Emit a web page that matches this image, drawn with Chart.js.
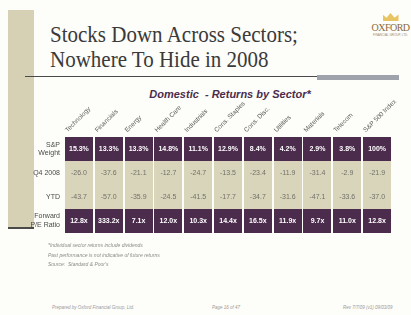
<!DOCTYPE html>
<html>
<head>
<meta charset="utf-8">
<script src="https://cdn.jsdelivr.net/npm/chart.js@4.4.1/dist/chart.umd.min.js"></script>
<style>
  html, body { margin: 0; padding: 0; background: #fdfdf9; }
  body { width: 411px; height: 315px; position: relative; overflow: hidden; font-family: "Liberation Sans", Arial, sans-serif; }
  #sidebar { position: absolute; left: 8px; top: 10px; width: 26px; height: 217px; background: #d6d1b4; border-bottom: 2px solid #4a4a48; }
  #title { position: absolute; left: 50px; top: 22px; font: 21px/23px "Liberation Serif", "Times New Roman", serif; color: #3a3a3a; white-space: nowrap; transform: scaleY(1.1); transform-origin: 0 0; }
  #rule { position: absolute; left: 25px; top: 76px; width: 372px; height: 1px; background: #4a4a4a; }
  #rulebar { position: absolute; left: 317px; top: 75px; width: 82px; height: 5px; background: #9fa3ab; }
  #logo { position: absolute; left: 370px; top: 13px; width: 41px; text-align: center; color: #8a6a3c; }
  #crown { width: 16px; height: 8px; margin: 0 auto 1px; background: #e8c560;
           clip-path: polygon(0 100%, 0 20%, 25% 60%, 50% 0, 75% 60%, 100% 20%, 100% 100%); }
  #logo .name { font: 10px/11px "Liberation Serif", serif; letter-spacing: -0.5px; }
  #logo .sub { font: 3px/4px "Liberation Sans", sans-serif; color: #a08a6a; }
  #subtitle { position: absolute; left: 120px; width: 220px; top: 88px; text-align: center; font: italic bold 11px "Liberation Sans", Arial, sans-serif; color: #4b2c4c; }
  #wrap { position: absolute; left: 0; top: 90px; width: 411px; height: 155px; }
  #notes { position: absolute; left: 48px; top: 241px; font: italic 5px/9.5px "Liberation Sans", Arial, sans-serif; color: #8a8a8a; }
  .foot { position: absolute; top: 305px; font: italic 4.5px "Liberation Sans", Arial, sans-serif; color: #9a9a9a; }
</style>
</head>
<body>
<div id="sidebar"></div>
<div id="title">Stocks Down Across Sectors;<br>Nowhere To Hide in 2008</div>
<div id="rule"></div>
<div id="rulebar"></div>
<div id="logo"><div id="crown"></div><div class="name">OXFORD</div><div class="sub">FINANCIAL GROUP, LTD.</div></div>
<div id="subtitle">Domestic&nbsp; - Returns by Sector*</div>
<div id="wrap"><canvas id="chart-returns"></canvas></div>
<div id="notes">*Individual sector returns include dividends<br>Past performance is not indicative of future returns<br>Source:&nbsp; Standard &amp; Poor's</div>
<div class="foot" style="left:52px">Prepared by Oxford Financial Group, Ltd.</div>
<div class="foot" style="left:212px">Page 16 of 47</div>
<div class="foot" style="left:343px">Rev 7/7/09 (v1) 09/03/09</div>

<script>
const sectors = ['Technology', 'Financials', 'Energy', 'Health Care', 'Industrials', 'Cons. Staples',
  'Cons. Disc.', 'Utilities', 'Materials', 'Telecom', 'S&P 500 Index'];
const rows = ['S&P Weight', 'Q4 2008', 'YTD', 'Forward P/E Ratio'];
const rowTicks = [['S&P', 'Weight'], 'Q4 2008', 'YTD', ['Forward', 'P/E Ratio']];

const spWeight = [15.3, 13.3, 13.3, 14.8, 11.1, 12.9, 8.4, 4.2, 2.9, 3.8, 100];
const q4Return = [-26.0, -37.6, -21.1, -12.7, -24.7, -13.5, -23.4, -11.9, -31.4, -2.9, -21.9];
const ytdReturn = [-43.7, -57.0, -35.9, -24.5, -41.5, -17.7, -34.7, -31.6, -47.1, -33.6, -37.0];
const forwardPE = [12.8, 333.2, 7.1, 12.0, 10.3, 14.4, 16.5, 11.9, 9.7, 11.0, 12.8];

const PURPLE = '#4b2c4c';
const TAN = '#d9d5bb';

function cellImage(color) {
  const c = document.createElement('canvas');
  c.width = 28; c.height = 24;
  const g = c.getContext('2d');
  g.fillStyle = color;
  g.fillRect(0, 0, 28, 24);
  return c;
}

function rowDataset(rowIdx, values, fmt, color, textColor, bold) {
  return {
    data: values.map((v, i) => ({ x: sectors[i], y: rows[rowIdx] })),
    texts: values.map(fmt),
    pointStyle: cellImage(color),
    pointRadius: 3,
    textColor,
    textFont: (bold ? 'bold ' : '') + '7px "Liberation Sans", Arial, sans-serif'
  };
}

const cellText = {
  id: 'cellText',
  afterDatasetsDraw(chart) {
    const ctx = chart.ctx;
    chart.data.datasets.forEach((ds, di) => {
      chart.getDatasetMeta(di).data.forEach((pt, i) => {
        ctx.save();
        ctx.font = ds.textFont;
        ctx.fillStyle = ds.textColor;
        ctx.textAlign = 'center';
        ctx.textBaseline = 'middle';
        ctx.fillText(ds.texts[i], pt.x, pt.y);
        ctx.restore();
      });
    });
  }
};

const ctx = document.getElementById('chart-returns').getContext('2d');
new Chart(ctx, {
  type: 'scatter',
  data: {
    datasets: [
      rowDataset(0, spWeight, v => v === 100 ? '100%' : v.toFixed(1) + '%', PURPLE, '#ffffff', true),
      rowDataset(1, q4Return, v => v.toFixed(1), TAN, '#707068', false),
      rowDataset(2, ytdReturn, v => v.toFixed(1), TAN, '#707068', false),
      rowDataset(3, forwardPE, v => v.toFixed(1) + 'x', PURPLE, '#ffffff', true)
    ]
  },
  plugins: [cellText],
  options: {
    responsive: true,
    maintainAspectRatio: false,
    animation: false,
    events: [],
    layout: { padding: { top: 0, right: 3, bottom: 5, left: 0 } },
    plugins: { legend: { display: false }, tooltip: { enabled: false } },
    scales: {
      x: {
        type: 'category',
        labels: sectors,
        position: 'top',
        offset: true,
        grid: { display: false, drawTicks: false },
        border: { display: false },
        ticks: {
          autoSkip: false, minRotation: 45, maxRotation: 45, padding: 3, labelOffset: -7,
          color: '#5a5a5a', font: { size: 6.5, family: '"Liberation Sans", Arial, sans-serif' }
        },
        afterFit: s => { s.height = 47; }
      },
      y: {
        type: 'category',
        labels: rows,
        offset: true,
        grid: { display: false, drawTicks: false },
        border: { display: false },
        ticks: {
          padding: 4, color: '#4a4a4a',
          font: { size: 7, family: '"Liberation Sans", Arial, sans-serif', lineHeight: 1.2 },
          callback: (v, i) => rowTicks[i]
        },
        afterFit: s => { s.width = 64; }
      }
    }
  }
});
</script>
</body>
</html>
